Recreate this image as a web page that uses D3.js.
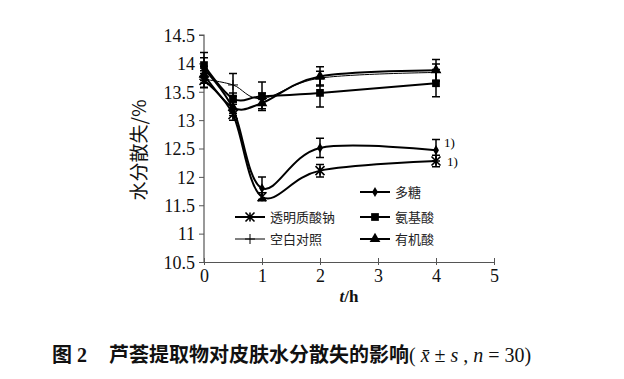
<!DOCTYPE html>
<html><head><meta charset="utf-8">
<script src="https://cdn.jsdelivr.net/npm/d3@7"></script>
<style>body{margin:0;background:#fff}svg{display:block}</style>
</head><body>
<svg id="c" width="624" height="379"></svg>
<script>
const times = [0, 0.5, 1, 2, 4];
const seriesNames = ["多糖", "透明质酸钠", "氨基酸", "空白对照", "有机酸"];
const polysaccharide = [13.9, 13.2, 11.8, 12.51, 12.47];
const polysaccharideErr = [0.2, 0.12, 0.2, 0.17, 0.19];
const hyaluronate = [13.7, 13.1, 11.65, 12.11, 12.28];
const hyaluronateErr = [0.12, 0.1, 0.07, 0.11, 0.1];
const aminoAcid = [13.97, 13.38, 13.42, 13.48, 13.65];
const aminoAcidErr = [0.22, 0.1, 0.25, 0.25, 0.24];
const blank = [13.72, 13.62, 13.38, 13.74, 13.84];
const blankErr = [0.15, 0.2, 0.1, 0.12, 0.15];
const organicAcid = [13.8, 13.22, 13.3, 13.77, 13.88];
const organicAcidErr = [0.15, 0.1, 0.1, 0.17, 0.19];
const xTicks = [0, 1, 2, 3, 4, 5];
const yTicks = [10.5, 11, 11.5, 12, 12.5, 13, 13.5, 14, 14.5];

const svg = d3.select("#c");
const x = d3.scaleLinear().domain([0, 5]).range([204, 494]);
const y = d3.scaleLinear().domain([10.5, 14.5]).range([262, 35]);

// axes
const xAxis = svg.append("g").attr("transform", `translate(0,${y(10.5)})`)
  .call(d3.axisBottom(x).tickValues(xTicks).tickSize(0).tickFormat(d3.format("d")));
xAxis.select(".domain").attr("stroke", "#555").attr("stroke-width", 1.2);
xAxis.selectAll(".tick").append("line").attr("y1", -4).attr("y2", 3).attr("stroke", "#555");
xAxis.selectAll("text").attr("font-family", "Liberation Serif").attr("font-size", 18).attr("fill", "#111").attr("dy", "0.95em");

const yAxis = svg.append("g").attr("transform", `translate(${x(0)},0)`)
  .call(d3.axisLeft(y).tickValues(yTicks).tickSize(5).tickPadding(4).tickFormat(d => d3.format("")(d)));
yAxis.select(".domain").attr("stroke", "#555").attr("stroke-width", 1.2).attr("d", `M-5,${y(14.5)}H0V${y(10.5)}`);
yAxis.selectAll(".tick line").attr("stroke", "#555");
yAxis.selectAll("text").attr("font-family", "Liberation Serif").attr("font-size", 18).attr("fill", "#111").attr("dy", "0.35em");

const line = d3.line().x((d, i) => x(times[i])).y(d => y(d)).curve(d3.curveCardinal.tension(0));

const sym = {
  diamond: d3.symbol().type(d3.symbolDiamond).size(30),
  square: d3.symbol().type(d3.symbolSquare).size(60),
  triangle: d3.symbol().type(d3.symbolTriangle).size(50)
};

const series = [
  {name: "多糖", v: polysaccharide, e: polysaccharideErr, m: "diamond", w: 2},
  {name: "透明质酸钠", v: hyaluronate, e: hyaluronateErr, m: "star", w: 2},
  {name: "氨基酸", v: aminoAcid, e: aminoAcidErr, m: "square", w: 2},
  {name: "空白对照", v: blank, e: blankErr, m: "plus", w: 1},
  {name: "有机酸", v: organicAcid, e: organicAcidErr, m: "triangle", w: 2}
];

function drawMarker(g, m, cx, cy) {
  if (m === "star") {
    const s = 4.5;
    g.append("path").attr("d", `M${cx - s},${cy - s}L${cx + s},${cy + s}M${cx - s},${cy + s}L${cx + s},${cy - s}M${cx},${cy - s}V${cy + s}`)
      .attr("stroke", "#000").attr("stroke-width", 1.6).attr("fill", "none");
  } else if (m === "plus") {
    const s = 5;
    g.append("path").attr("d", `M${cx - s},${cy}H${cx + s}M${cx},${cy - s}V${cy + s}`)
      .attr("stroke", "#000").attr("stroke-width", 1).attr("fill", "none");
  } else {
    g.append("path").attr("d", sym[m]()).attr("transform", `translate(${cx},${cy})`).attr("fill", "#000");
  }
}

const plot = svg.append("g");
series.forEach(s => {
  plot.append("path").attr("d", line(s.v)).attr("fill", "none").attr("stroke", "#000").attr("stroke-width", s.w);
});
series.forEach(s => {
  const g = plot.append("g");
  s.v.forEach((v, i) => {
    const cx = x(times[i]);
    g.append("path").attr("d", `M${cx},${y(v - s.e[i])}V${y(v + s.e[i])}M${cx - 4},${y(v - s.e[i])}H${cx + 4}M${cx - 4},${y(v + s.e[i])}H${cx + 4}`)
      .attr("stroke", "#000").attr("stroke-width", 1.5).attr("fill", "none");
    drawMarker(g, s.m, cx, y(v));
  });
});

// significance marks
svg.append("text").attr("x", x(4) + 8).attr("y", y(polysaccharide[4]) - 3).text("1)")
  .attr("font-family", "Liberation Serif").attr("font-size", 13);
svg.append("text").attr("x", x(4) + 11).attr("y", y(hyaluronate[4]) + 5).text("1)")
  .attr("font-family", "Liberation Serif").attr("font-size", 13);

// legend
const legendItems = [
  {s: series[0], lx: 360, ly: 192},
  {s: series[1], lx: 235, ly: 217},
  {s: series[2], lx: 360, ly: 217},
  {s: series[3], lx: 235, ly: 239},
  {s: series[4], lx: 360, ly: 239}
];
legendItems.forEach(li => {
  const g = svg.append("g");
  g.append("line").attr("x1", li.lx).attr("x2", li.lx + 30).attr("y1", li.ly).attr("y2", li.ly)
    .attr("stroke", "#000").attr("stroke-width", li.s.w);
  drawMarker(g, li.s.m, li.lx + 15, li.ly);
  g.append("text").attr("x", li.lx + 35).attr("y", li.ly).attr("dy", "0.35em").text(li.s.name)
    .attr("font-family", "Noto Sans CJK SC").attr("font-size", 13).attr("fill", "#222");
});

// axis titles
svg.append("text").attr("transform", `translate(146,150) rotate(-90)`).attr("text-anchor", "middle")
  .attr("font-family", "Noto Sans CJK SC").attr("font-size", 19).attr("fill", "#111").text("水分散失/%");
const xt = svg.append("text").attr("x", 349).attr("y", 302).attr("text-anchor", "middle")
  .attr("font-family", "Liberation Serif").attr("font-size", 17).attr("font-weight", "bold").attr("fill", "#111");
xt.append("tspan").attr("font-style", "italic").text("t");
xt.append("tspan").text("/h");

// caption
const cap = svg.append("text").attr("x", 52).attr("y", 362).attr("fill", "#111").attr("font-size", 20);
cap.append("tspan").attr("font-family", "Noto Sans CJK SC").attr("font-weight", "bold").text("图");
cap.append("tspan").attr("dx", 5).attr("font-family", "Liberation Serif").attr("font-weight", "bold").text("2");
cap.append("tspan").attr("dx", 22).attr("font-family", "Noto Sans CJK SC").attr("font-weight", "bold").text("芦荟提取物对皮肤水分散失的影响");
cap.append("tspan").attr("font-family", "Liberation Serif").text("( ");
cap.append("tspan").attr("font-family", "Liberation Serif").attr("font-style", "italic").text("x̄");
cap.append("tspan").attr("font-family", "Liberation Serif").text(" ± ");
cap.append("tspan").attr("font-family", "Liberation Serif").attr("font-style", "italic").text("s");
cap.append("tspan").attr("font-family", "Liberation Serif").text(" , ");
cap.append("tspan").attr("font-family", "Liberation Serif").attr("font-style", "italic").text("n");
cap.append("tspan").attr("font-family", "Liberation Serif").text(" = 30)");
</script>
</body></html>
